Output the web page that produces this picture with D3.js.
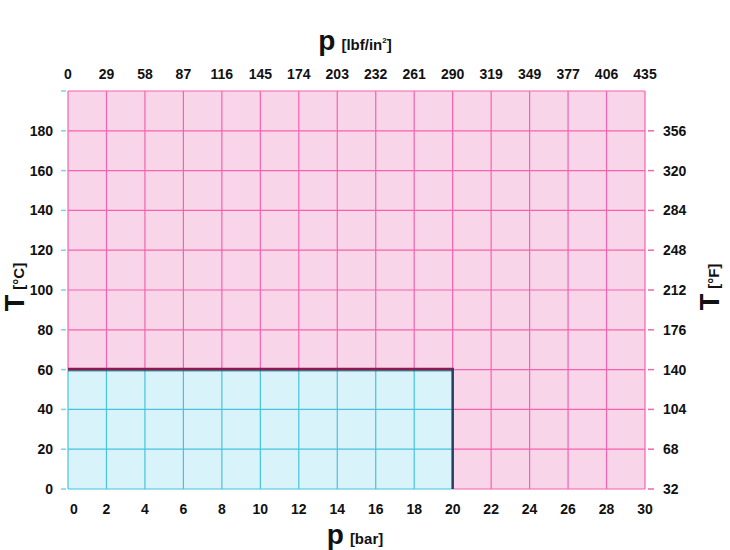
<!DOCTYPE html>
<html><head><meta charset="utf-8">
<script src="https://cdn.jsdelivr.net/npm/d3@7"></script>
<style>body{margin:0;background:#fff}svg{display:block}text{font-family:"Liberation Sans",Arial,sans-serif;font-weight:bold;fill:#111}</style>
</head><body>
<svg id="c" width="730" height="550"></svg>
<script>
const barTicks = [0,2,4,6,8,10,12,14,16,18,20,22,24,26,28,30];
const psiLabels = ["0","29","58","87","116","145","174","203","232","261","290","319","349","377","406","435"];
const tempCTicks = [0,20,40,60,80,100,120,140,160,180];
const tempFLabels = ["32","68","104","140","176","212","248","284","320","356"];
const limitBar = 20;
const limitTempC = 60;

const svg = d3.select("#c");
const L=68,R=645,T=91,B=489;
const x = d3.scaleLinear().domain([0,30]).range([L,R]);
const y = d3.scaleLinear().domain([0,200]).range([B,T]);

const pinkFill="#f9d5ea", pinkLine="#f562ad", cyanFill="#d9f3fa", cyanLine="#45c3df";

svg.append("rect").attr("x",x(0)).attr("y",y(200)).attr("width",x(30)-x(0)).attr("height",y(0)-y(200)).attr("fill",pinkFill);
svg.append("rect").attr("x",x(0)).attr("y",y(limitTempC)).attr("width",x(limitBar)-x(0)).attr("height",y(0)-y(limitTempC)).attr("fill",cyanFill);

const grid = svg.append("g").attr("stroke-width",1.2);
barTicks.forEach(b=>{
  const xx=x(b);
  if(b<=limitBar){
    grid.append("line").attr("x1",xx).attr("x2",xx).attr("y1",y(200)).attr("y2",y(limitTempC)).attr("stroke",pinkLine);
    grid.append("line").attr("x1",xx).attr("x2",xx).attr("y1",y(limitTempC)).attr("y2",y(0)).attr("stroke",cyanLine);
  } else {
    grid.append("line").attr("x1",xx).attr("x2",xx).attr("y1",y(200)).attr("y2",y(0)).attr("stroke",pinkLine);
  }
});
tempCTicks.concat([200]).forEach(t=>{
  const yy=y(t);
  if(t<=limitTempC){
    grid.append("line").attr("x1",x(0)).attr("x2",x(limitBar)).attr("y1",yy).attr("y2",yy).attr("stroke",cyanLine);
    grid.append("line").attr("x1",x(limitBar)).attr("x2",x(30)).attr("y1",yy).attr("y2",yy).attr("stroke",pinkLine);
  } else {
    grid.append("line").attr("x1",x(0)).attr("x2",x(30)).attr("y1",yy).attr("y2",yy).attr("stroke",pinkLine);
  }
});

tempCTicks.concat([200]).forEach(t=>{
  svg.append("line").attr("x1",L-7).attr("x2",L-2).attr("y1",y(t)).attr("y2",y(t)).attr("stroke","#7fcfea").attr("stroke-width",1.5);
});
tempCTicks.forEach(t=>{
  svg.append("line").attr("x1",R+3).attr("x2",R+9).attr("y1",y(t)).attr("y2",y(t)).attr("stroke",pinkLine).attr("stroke-width",1.5);
});

svg.append("line").attr("x1",x(0)).attr("x2",x(limitBar)+1).attr("y1",y(limitTempC)-0.5).attr("y2",y(limitTempC)-0.5).attr("stroke","#8a1c50").attr("stroke-width",2.5);
svg.append("line").attr("x1",x(0)).attr("x2",x(limitBar)).attr("y1",y(limitTempC)+1.2).attr("y2",y(limitTempC)+1.2).attr("stroke","#1f4f73").attr("stroke-width",1);
svg.append("line").attr("x1",x(limitBar)).attr("x2",x(limitBar)).attr("y1",y(limitTempC)-1.5).attr("y2",y(0)).attr("stroke","#24405e").attr("stroke-width",2.5);

const fs=14;
svg.append("g").selectAll("text").data(barTicks).join("text")
  .attr("x",(d,i)=>x(d)+(i===0?6:0)).attr("y",514).attr("text-anchor","middle").attr("font-size",fs).text(d=>d);
svg.append("g").selectAll("text").data(psiLabels).join("text")
  .attr("x",(d,i)=>x(barTicks[i])).attr("y",79).attr("text-anchor","middle").attr("font-size",fs).text(d=>d);
svg.append("g").selectAll("text").data(tempCTicks).join("text")
  .attr("x",53).attr("y",d=>y(d)+5).attr("text-anchor","end").attr("font-size",fs).text(d=>d);
svg.append("g").selectAll("text").data(tempFLabels).join("text")
  .attr("x",663).attr("y",(d,i)=>y(tempCTicks[i])+5).attr("text-anchor","start").attr("font-size",fs).text(d=>d);

const bt=svg.append("text").attr("x",355).attr("y",544).attr("text-anchor","middle");
bt.append("tspan").attr("font-size",28).text("p");
bt.append("tspan").attr("font-size",15).attr("dx",6).text("[bar]");

const tt=svg.append("text").attr("x",355).attr("y",50).attr("text-anchor","middle");
tt.append("tspan").attr("font-size",28).text("p");
tt.append("tspan").attr("font-size",15).attr("dx",6).text("[lbf/in");
tt.append("tspan").attr("font-size",8).attr("dy",-7).text("2");
tt.append("tspan").attr("font-size",15).attr("dy",7).text("]");

const lt=svg.append("text").attr("transform","translate(24,287) rotate(-90)").attr("text-anchor","middle");
lt.append("tspan").attr("font-size",27).text("T");
lt.append("tspan").attr("font-size",15).attr("dx",5).text("[°C]");

const rt=svg.append("text").attr("transform","translate(719,287) rotate(-90)").attr("text-anchor","middle");
rt.append("tspan").attr("font-size",27).text("T");
rt.append("tspan").attr("font-size",15).attr("dx",5).text("[°F]");
</script>
</body></html>
